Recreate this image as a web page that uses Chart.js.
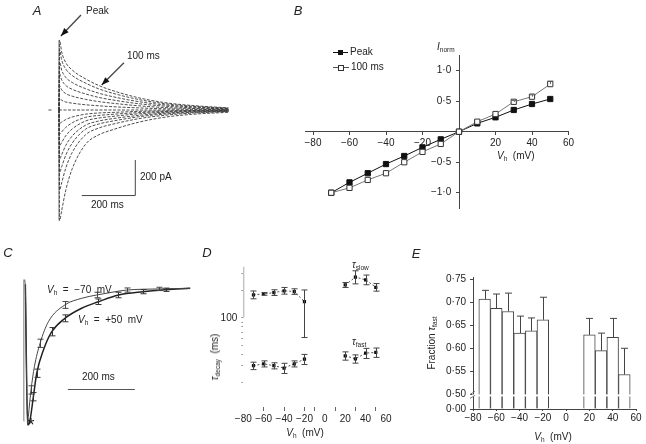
<!DOCTYPE html>
<html>
<head>
<meta charset="utf-8">
<script src="https://cdn.jsdelivr.net/npm/chart.js@4.4.1/dist/chart.umd.min.js"></script>
<style>
body { margin: 0; background: #fff; }
#fig { position: relative; width: 646px; height: 444px; overflow: hidden; font-family: 'Liberation Sans', Arial, sans-serif; color: #222; }
canvas { position: absolute; left: 0; top: 0; }
.t { position: absolute; font-size: 10px; line-height: 10px; white-space: nowrap; transform: translate(0, -50%); }
.c { transform: translate(-50%, -50%); }
.r { transform: translate(-50%, -50%) rotate(-90deg); }
.p { font-style: italic; font-size: 13px; line-height: 13px; }
sub { font-size: 6.5px; vertical-align: -2px; line-height: 0; }
</style>
</head>
<body>
<div id="fig">
  <canvas id="cA" width="646" height="444"></canvas>
  <canvas id="cB" width="646" height="444"></canvas>
  <canvas id="cC" width="646" height="444"></canvas>
  <canvas id="cD" width="646" height="444"></canvas>
  <canvas id="cE" width="646" height="444"></canvas>

  <div class="t c p" style="left:37px;top:10px">A</div>
  <div class="t" style="left:86px;top:11px">Peak</div>
  <div class="t" style="left:127px;top:56px">100 ms</div>
  <div class="t" style="left:140px;top:177px">200 pA</div>
  <div class="t" style="left:91px;top:205px">200 ms</div>

  <div class="t c p" style="left:298px;top:10px">B</div>
  <div class="t" style="left:437px;top:47px"><i>I</i><sub>norm</sub></div>
  <div class="t" style="left:350px;top:52px">Peak</div>
  <div class="t" style="left:351px;top:67px">100 ms</div>
  <div class="t" style="left:497px;top:156px"><i>V</i><sub>h</sub>&nbsp;&nbsp;(mV)</div>

  <div class="t c p" style="left:8px;top:252px">C</div>
  <div class="t" style="left:47px;top:290px"><i>V</i><sub>h</sub>&nbsp; = &nbsp;−70&nbsp; mV</div>
  <div class="t" style="left:78px;top:320px"><i>V</i><sub>h</sub>&nbsp; = &nbsp;+50&nbsp; mV</div>
  <div class="t" style="left:82px;top:377px">200 ms</div>
  <div class="t c" style="left:31px;top:425px;font-size:18px;line-height:18px">*</div>

  <div class="t c p" style="left:207px;top:252px">D</div>
  <div class="t" style="left:352px;top:265px"><i>τ</i><sub>slow</sub></div>
  <div class="t" style="left:352px;top:342px"><i>τ</i><sub>fast</sub></div>
  <div class="t r" style="left:215px;top:357px"><i>τ</i><sub>decay</sub>&nbsp; (ms)</div>
  <div class="t c" style="left:305px;top:433px"><i>V</i><sub>h</sub>&nbsp;&nbsp;(mV)</div>

  <div class="t c p" style="left:416px;top:253px">E</div>
  <div class="t r" style="left:432px;top:343px">Fraction <i>τ</i><sub>fast</sub></div>
  <div class="t c" style="left:553px;top:437px"><i>V</i><sub>h</sub>&nbsp;&nbsp;(mV)</div>
</div>

<script>
// ---- A: current traces (pA) at each holding potential
const aTime = [0, 2, 10, 25, 50, 100, 150, 200, 300, 400, 500, 640];
const aTraces = [
  [0, -632, -575, -461, -335, -196, -142, -114, -70, -41, -25, -13],
  [0, -457, -416, -334, -242, -142, -103, -82, -50, -30, -18, -9],
  [0, -356, -324, -260, -189, -110, -80, -64, -39, -23, -14, -7],
  [0, -280, -255, -204, -148, -87, -63, -50, -31, -18, -11, -6],
  [0, -203, -185, -148, -108, -63, -46, -37, -22, -13, -8, -4],
  [0, -137, -125, -100, -73, -42, -31, -25, -15, -9, -5, -3],
  [0, -76, -69, -55, -40, -24, -17, -14, -8, -5, -3, -2],
  [0, 0, 0, 0, 0, 0, 0, 0, 0, 0, 0, 0],
  [0, 68, 56, 46, 39, 30, 24, 19, 12, 7, 4, 2],
  [0, 138, 115, 94, 79, 61, 48, 39, 24, 14, 9, 4],
  [0, 207, 172, 141, 118, 92, 72, 58, 36, 22, 13, 6],
  [0, 275, 228, 187, 157, 122, 96, 77, 48, 29, 18, 8],
  [0, 345, 286, 235, 197, 154, 121, 97, 60, 36, 22, 10],
  [0, 400, 332, 272, 228, 178, 140, 112, 70, 42, 26, 12]
];
const aScaleBar = { t0: 86, ms: 200, i0: -486, pA: 200 };

// ---- B: normalised I-V
const bV = [-70, -60, -50, -40, -30, -20, -10, 0, 10, 20, 30, 40, 50];
const bPeak = [-1.0, -0.83, -0.68, -0.53, -0.398, -0.256, -0.125, 0, 0.137, 0.236, 0.356, 0.454, 0.536];
const b100 = [-1.0, -0.92, -0.79, -0.68, -0.50, -0.33, -0.20, 0, 0.164, 0.29, 0.49, 0.574, 0.78];
const b100Err = [0, 0, 0, 0, 0, 0, 0, 0, 0, 0, 0.02, 0.03, 0.05];
const bTicksX = [-80, -60, -40, -20, 20, 40, 60];
const bTicksY = [-1, -0.5, 0.5, 1];

// ---- C: normalised mean currents
const c70T = [1, 8, 10, 18, 28, 45, 70, 119, 169, 214, 269, 304, 400, 493];
const c70I = [0.02, -1.0, -0.94, -0.746, -0.578, -0.408, -0.251, -0.130, -0.082, -0.058, -0.034, -0.022, -0.014, -0.009];
const c70Err = [0, 0, 0, 0.03, 0, 0.03, 0, 0.025, 0, 0.02, 0, 0.015, 0.012, 0];
const c50T = [1, 8, 15, 25, 35, 55, 80, 119, 169, 219, 279, 353, 420, 493];
const c50I = [0.02, -1.0, -0.964, -0.795, -0.625, -0.457, -0.324, -0.227, -0.154, -0.107, -0.058, -0.034, -0.02, -0.009];
const c50Err = [0, 0, 0, 0.03, 0.03, 0, 0.03, 0.025, 0, 0.02, 0.02, 0.015, 0.012, 0];
const cScaleBar = { t0: 128, ms: 200, i: -0.739 };

// ---- D: decay time constants (ms)
const dV = [-70, -60, -50, -40, -30, -20, 20, 30, 40, 50];
const dSlow = [178, 182, 188, 197, 193, 150, 228, 277, 259, 215];
const dSlowUp = [18, 6, 14, 17, 14, 51, 14, 48, 33, 21];
const dSlowDown = [17, 6, 13, 16, 13, 89, 14, 43, 30, 20];
const dFast = [30.1, 31.6, 30.1, 28.4, 31.6, 35.5, 38.6, 35.8, 41.3, 42.0];
const dFastErr = [2.8, 2.4, 2.3, 3.6, 2.4, 4.5, 4.0, 3.7, 5.2, 4.9];
const dTicksY = [20, 30, 40, 50, 60, 70, 80, 90, 100, 200, 300];
const dTickMarks = [-60, -40, -20, -10, 10, 30, 50];

// ---- E: fraction of fast component
const eV = [-70, -60, -50, -40, -30, -20, 20, 30, 40, 50];
const eFrac = [0.707, 0.687, 0.680, 0.633, 0.638, 0.662, 0.629, 0.595, 0.624, 0.543];
const eErr = [0.019, 0.031, 0.040, 0.037, 0.028, 0.049, 0.036, 0.038, 0.041, 0.057];
const eTicksY = [0.468, 0.50, 0.55, 0.60, 0.65, 0.70, 0.75];

Chart.defaults.font.family = "'Liberation Sans', Arial, sans-serif";
Chart.defaults.font.size = 10;
Chart.defaults.color = '#222';
Chart.defaults.animation = false;
Chart.defaults.responsive = false;
Chart.defaults.devicePixelRatio = 1;
Chart.defaults.plugins.legend.display = false;
Chart.defaults.plugins.tooltip.enabled = false;

const W = 646, H = 444;
// chart area given in page pixels
function area(l, t, r, b, extraL, extraB) {
  return { padding: { left: l - (extraL || 0), top: t, right: W - r, bottom: H - b - (extraB || 0) } };
}
const fmt = v => (v < 0 ? '−' : '') + Math.abs(v);
const fmtDot = (v, d) => (v < 0 ? '−' : '') + Math.abs(v).toFixed(d).replace('.', '·');

const errorBars = {
  id: 'errorBars',
  afterDatasetsDraw(chart) {
    const ctx = chart.ctx, ys = chart.scales.y;
    chart.data.datasets.forEach((ds, di) => {
      if (!ds.errUp) return;
      const meta = chart.getDatasetMeta(di);
      ctx.save();
      ctx.strokeStyle = ds.errColor || '#333';
      ctx.lineWidth = 1;
      meta.data.forEach((el, i) => {
        const d = ds.data[i];
        const v = typeof d === 'object' ? d.y : d;
        const up = ds.errUp[i] || 0;
        const dn = ds.errDown ? (ds.errDown[i] || 0) : 0;
        if (!up && !dn) return;
        const x = Math.round(el.x) + 0.5;
        const y1 = ys.getPixelForValue(v + up), y2 = ys.getPixelForValue(v - dn);
        const w = ds.capW || 3;
        ctx.beginPath();
        ctx.moveTo(x, y1); ctx.lineTo(x, y2);
        if (up) { ctx.moveTo(x - w, y1); ctx.lineTo(x + w, y1); }
        if (dn) { ctx.moveTo(x - w, y2); ctx.lineTo(x + w, y2); }
        ctx.stroke();
      });
      ctx.restore();
    });
  }
};

function arrow(ctx, x1, y1, x2, y2) {
  const a = Math.atan2(y2 - y1, x2 - x1);
  ctx.beginPath(); ctx.moveTo(x1, y1); ctx.lineTo(x2, y2); ctx.stroke();
  ctx.beginPath();
  ctx.moveTo(x2, y2);
  ctx.lineTo(x2 - 8 * Math.cos(a) + 3 * Math.sin(a), y2 - 8 * Math.sin(a) - 3 * Math.cos(a));
  ctx.lineTo(x2 - 8 * Math.cos(a) - 3 * Math.sin(a), y2 - 8 * Math.sin(a) + 3 * Math.cos(a));
  ctx.closePath(); ctx.fill();
}

// ================= A
const aExtras = {
  id: 'aExtras',
  afterDraw(chart) {
    const { ctx, scales: { x, y } } = chart;
    ctx.save();
    ctx.strokeStyle = '#444'; ctx.fillStyle = '#111'; ctx.lineWidth = 1;
    const x0 = x.getPixelForValue(aScaleBar.t0), x1 = x.getPixelForValue(aScaleBar.t0 + aScaleBar.ms);
    const y0 = y.getPixelForValue(aScaleBar.i0), y1 = y.getPixelForValue(aScaleBar.i0 + aScaleBar.pA);
    ctx.beginPath(); ctx.moveTo(x0, y0 + 0.5); ctx.lineTo(x1 + 0.5, y0 + 0.5); ctx.lineTo(x1 + 0.5, y1); ctx.stroke();
    ctx.lineWidth = 1.3;
    arrow(ctx, x.getPixelForValue(83), y.getPixelForValue(543), x.getPixelForValue(7), y.getPixelForValue(423));
    arrow(ctx, x.getPixelForValue(245), y.getPixelForValue(270), x.getPixelForValue(161), y.getPixelForValue(143));
    ctx.restore();
  }
};
const aSets = aTraces.map(tr => ({
  data: aTime.map((t, i) => ({ x: t, y: tr[i] })),
  borderColor: '#3a3a3a', borderWidth: 0.9, borderDash: [3, 1.5],
  pointRadius: 0, cubicInterpolationMode: 'monotone'
}));
aSets.push({ data: [{ x: 0, y: aTraces[0][1] }, { x: 0, y: aTraces[aTraces.length - 1][1] }],
  borderColor: '#888', borderWidth: 1.2, pointRadius: 0 });
aSets.push({ data: [{ x: -40, y: 0 }, { x: -28, y: 0 }], borderColor: '#555', borderWidth: 1, pointRadius: 0 });
new Chart(document.getElementById('cA'), {
  type: 'line',
  data: { datasets: aSets },
  options: {
    layout: area(47.1, 36.5, 233.9, 225.5),
    scales: {
      x: { type: 'linear', min: -45, max: 660, display: false },
      y: { type: 'linear', min: -660, max: 420, display: false }
    }
  },
  plugins: [aExtras]
});

// ================= B
const bLegend = {
  id: 'bLegend',
  afterDraw(chart) {
    const ctx = chart.ctx;
    ctx.save();
    ctx.lineWidth = 1;
    ctx.strokeStyle = '#111';
    ctx.beginPath(); ctx.moveTo(333, 52.5); ctx.lineTo(348, 52.5); ctx.stroke();
    ctx.fillStyle = '#111'; ctx.fillRect(338, 50, 5, 5);
    ctx.strokeStyle = '#555';
    ctx.beginPath(); ctx.moveTo(333, 67.5); ctx.lineTo(349, 67.5); ctx.stroke();
    ctx.fillStyle = '#fff'; ctx.fillRect(338, 65, 5, 5);
    ctx.strokeStyle = '#333'; ctx.strokeRect(338.5, 65.5, 5, 5);
    ctx.restore();
  }
};
new Chart(document.getElementById('cB'), {
  type: 'line',
  data: {
    datasets: [
      { data: bV.map((v, i) => ({ x: v, y: b100[i] })), errUp: b100Err, capW: 3, errColor: '#666',
        borderColor: '#777', borderWidth: 1, pointStyle: 'rect', pointRadius: 3.7,
        pointBackgroundColor: '#fff', pointBorderColor: '#333', pointBorderWidth: 1 },
      { data: bV.map((v, i) => ({ x: v, y: bPeak[i] })),
        borderColor: '#111', borderWidth: 1, pointStyle: 'rect', pointRadius: 3.7,
        pointBackgroundColor: '#111', pointBorderColor: '#111', pointBorderWidth: 1 }
    ]
  },
  options: {
    layout: area(305.7, 55, 568.5, 208),
    scales: {
      x: { type: 'linear', min: -84, max: 60, position: { y: 0 },
        afterBuildTicks: s => { s.ticks = bTicksX.map(v => ({ value: v })); },
        ticks: { callback: v => fmt(v), padding: 3, autoSkip: false, maxRotation: 0 },
        grid: { drawOnChartArea: false, tickLength: 3, color: '#444' },
        border: { color: '#444', width: 1 } },
      y: { type: 'linear', min: -1.25, max: 1.257, position: { x: 0 },
        afterBuildTicks: s => { s.ticks = bTicksY.map(v => ({ value: v })); },
        ticks: { callback: v => fmtDot(v, 1) + '\u2002 ', padding: 4, autoSkip: false },
        grid: { drawOnChartArea: false, tickLength: 3, color: '#444' },
        border: { color: '#444', width: 1 } }
    }
  },
  plugins: [errorBars, bLegend]
});

// ================= C
const cExtras = {
  id: 'cExtras',
  afterDraw(chart) {
    const { ctx, scales: { x, y } } = chart;
    ctx.save();
    ctx.strokeStyle = '#555'; ctx.lineWidth = 1;
    const py = Math.round(y.getPixelForValue(cScaleBar.i)) + 0.5;
    ctx.beginPath(); ctx.moveTo(x.getPixelForValue(cScaleBar.t0), py);
    ctx.lineTo(x.getPixelForValue(cScaleBar.t0 + cScaleBar.ms), py); ctx.stroke();
    ctx.restore();
  }
};
new Chart(document.getElementById('cC'), {
  type: 'line',
  data: {
    datasets: [
      { data: [{ x: -4, y: -0.97 }, { x: -4, y: 0.02 }, { x: -3, y: 0.05 }, { x: -0.5, y: 0.05 }, { x: 1, y: 0.02 }],
        borderColor: '#888', borderWidth: 1.1, pointRadius: 0 },
      { data: c70T.map((t, i) => ({ x: t, y: c70I[i] })), errUp: c70Err, errDown: c70Err, capW: 3, errColor: '#444',
        borderColor: '#444', borderWidth: 1, pointRadius: 0, cubicInterpolationMode: 'monotone' },
      { data: c50T.map((t, i) => ({ x: t, y: c50I[i] })), errUp: c50Err, errDown: c50Err, capW: 3, errColor: '#333',
        borderColor: '#222', borderWidth: 1.5, pointRadius: 0, cubicInterpolationMode: 'monotone' }
    ]
  },
  options: {
    layout: area(18.3, 273.2, 199.2, 431.9),
    scales: {
      x: { type: 'linear', min: -20, max: 520, display: false },
      y: { type: 'linear', min: -1.05, max: 0.1, display: false }
    }
  },
  plugins: [errorBars, cExtras]
});

// ================= D
const dExtras = {
  id: 'dExtras',
  beforeDatasetsDraw(chart) {
    const { ctx, chartArea, scales: { y } } = chart;
    ctx.save();
    ctx.strokeStyle = '#aaa'; ctx.lineWidth = 1;
    ctx.beginPath();
    ctx.moveTo(chartArea.left + 0.5, y.getPixelForValue(100));
    ctx.lineTo(chartArea.left + 0.5, chartArea.top);
    ctx.stroke();
    ctx.restore();
  }
};
function dSet(vals, up, dn, from, to) {
  return {
    data: dV.slice(from, to).map((v, i) => ({ x: v, y: vals[from + i] })),
    errUp: up.slice(from, to), errDown: dn.slice(from, to), capW: 3, errColor: '#444',
    borderColor: '#555', borderWidth: 1, borderDash: [2, 2],
    pointStyle: 'rect', pointRadius: 2.3, pointBackgroundColor: '#111', pointBorderColor: '#111', pointBorderWidth: 0
  };
}
new Chart(document.getElementById('cD'), {
  type: 'line',
  data: {
    datasets: [
      dSet(dSlow, dSlowUp, dSlowDown, 0, 6), dSet(dSlow, dSlowUp, dSlowDown, 6, 10),
      dSet(dFast, dFastErr, dFastErr, 0, 6), dSet(dFast, dFastErr, dFastErr, 6, 10)
    ]
  },
  options: {
    layout: area(243.3, 266.7, 386, 407, 30, 25),
    scales: {
      x: { type: 'linear', min: -80, max: 60,
        afterFit: s => { s.height = 25; },
        ticks: { stepSize: 10, autoSkip: false, maxRotation: 0, padding: 2, callback: v => (v % 20 === 0 ? fmt(v) : '') },
        grid: { drawOnChartArea: false, tickLength: 4,
          color: c => (c.tick && dTickMarks.includes(c.tick.value) ? '#666' : 'rgba(0,0,0,0)') },
        border: { display: false } },
      y: { type: 'logarithmic', min: 10.7, max: 360,
        afterFit: s => { s.width = 30; },
        afterBuildTicks: s => { s.ticks = dTicksY.map(v => ({ value: v })); },
        ticks: { autoSkip: false, padding: 4, callback: v => (v === 100 ? '100' : '') },
        grid: { drawOnChartArea: false, tickLength: 2, color: '#999' },
        border: { display: false } }
    }
  },
  plugins: [dExtras, errorBars]
});

// ================= E
const eExtras = {
  id: 'eExtras',
  afterDatasetsDraw(chart) {
    const { ctx, chartArea, scales: { y } } = chart;
    const gy = y.getPixelForValue(0.4975);
    ctx.save();
    ctx.fillStyle = '#fff';
    ctx.fillRect(chartArea.left - 1, gy - 1, chartArea.right - chartArea.left + 1, 2);
    ctx.strokeStyle = '#777'; ctx.lineWidth = 1;
    const ax = chartArea.left;
    ctx.beginPath();
    ctx.moveTo(ax - 3, gy - 1); ctx.lineTo(ax + 2, gy - 4);
    ctx.moveTo(ax - 3, gy + 3); ctx.lineTo(ax + 2, gy);
    ctx.stroke();
    ctx.restore();
  }
};
new Chart(document.getElementById('cE'), {
  type: 'bar',
  data: {
    datasets: [
      { data: eV.map((v, i) => ({ x: v, y: eFrac[i] })), base: 0.468, errUp: eErr, capW: 3.5, errColor: '#444',
        backgroundColor: '#fff', borderColor: '#444', borderWidth: 1,
        barPercentage: 1, categoryPercentage: 1 }
    ]
  },
  options: {
    layout: area(473, 277, 636, 409, 40, 20),
    scales: {
      x: { type: 'linear', min: -80, max: 60, offset: false,
        afterFit: s => { s.height = 20; },
        ticks: { stepSize: 20, autoSkip: false, maxRotation: 0, padding: 1, callback: v => fmt(v) },
        grid: { drawOnChartArea: false, offset: false, tickLength: 2, color: '#444' },
        border: { color: '#444', width: 1 } },
      y: { type: 'linear', min: 0.468, max: 0.755, beginAtZero: false,
        afterFit: s => { s.width = 40; },
        afterBuildTicks: s => { s.ticks = eTicksY.map(v => ({ value: v })); },
        ticks: { autoSkip: false, padding: 4, callback: v => (v < 0.49 ? '0·00' : fmtDot(v, 2)) },
        grid: { drawOnChartArea: false, tickLength: 3, color: '#444' },
        border: { color: '#444', width: 1 } }
    }
  },
  plugins: [errorBars, eExtras]
});
</script>
</body>
</html>
